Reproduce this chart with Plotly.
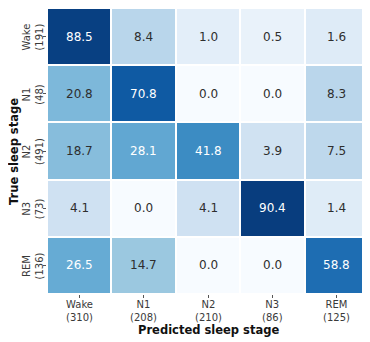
import numpy as np
import plotly.graph_objects as go

stages = ["Wake", "N1", "N2", "N3", "REM"]
true_counts = [191, 48, 491, 73, 136]
pred_counts = [310, 208, 210, 86, 125]
pct = [
    [88.5, 8.4, 1.0, 0.5, 1.6],
    [20.8, 70.8, 0.0, 0.0, 8.3],
    [18.7, 28.1, 41.8, 3.9, 7.5],
    [4.1, 0.0, 4.1, 90.4, 1.4],
    [26.5, 14.7, 0.0, 0.0, 58.8],
]

blues = ["#f7fbff", "#deebf7", "#c6dbef", "#9ecae1", "#6baed6",
         "#4292c6", "#2171b5", "#08519c", "#08306b"]
colorscale = [[i / 8, c] for i, c in enumerate(blues)]

z = np.sqrt(np.array(pct) / 100.0)

fig = go.Figure(go.Heatmap(
    z=z, x=stages, y=stages, colorscale=colorscale, zmin=0, zmax=1,
    showscale=False, xgap=2, ygap=2, hoverinfo="skip",
))

font_family = "DejaVu Sans"
for i, row in enumerate(pct):
    for j, v in enumerate(row):
        col = "white" if z[i][j] > 0.49 else "#2e2e2e"
        fig.add_annotation(x=stages[j], y=stages[i], text=f"{v:.1f}",
                           showarrow=False,
                           font=dict(family=font_family, size=12, color=col))

tick_font = dict(family=font_family, size=10, color="#3a3a3a")
for s, c in zip(stages, pred_counts):
    fig.add_annotation(x=s, xref="x", y=-0.011, yref="paper", yanchor="top",
                       text=f"{s}<br>({c})", showarrow=False, font=tick_font)
for s, c in zip(stages, true_counts):
    fig.add_annotation(x=-0.0435, xref="paper", xanchor="center", y=s, yref="y",
                       text=f"{s}<br>({c})", textangle=-90, showarrow=False,
                       font=tick_font)

title_font = dict(family=font_family, size=11.5, color="#111111")
fig.add_annotation(x=0.5, xref="paper", y=-0.126, yref="paper", yanchor="middle",
                   text="<b>Predicted sleep stage</b>", showarrow=False, font=title_font)
fig.add_annotation(x=-0.1025, xref="paper", xanchor="center", y=0.5, yref="paper",
                   text="<b>True sleep stage</b>", textangle=-90, showarrow=False,
                   font=title_font)

fig.update_layout(
    width=362, height=334,
    margin=dict(l=39, r=1, t=0, b=48),
    paper_bgcolor="white", plot_bgcolor="white",
    font=dict(family=font_family, size=10, color="#333333"),
)
fig.update_xaxes(showticklabels=False, ticks="outside", ticklen=3,
                 tickcolor="#555555", showgrid=False, zeroline=False)
fig.update_yaxes(autorange="reversed", showticklabels=False, ticks="outside",
                 ticklen=3, tickcolor="#555555", showgrid=False, zeroline=False)

fig.write_html("out.html")
